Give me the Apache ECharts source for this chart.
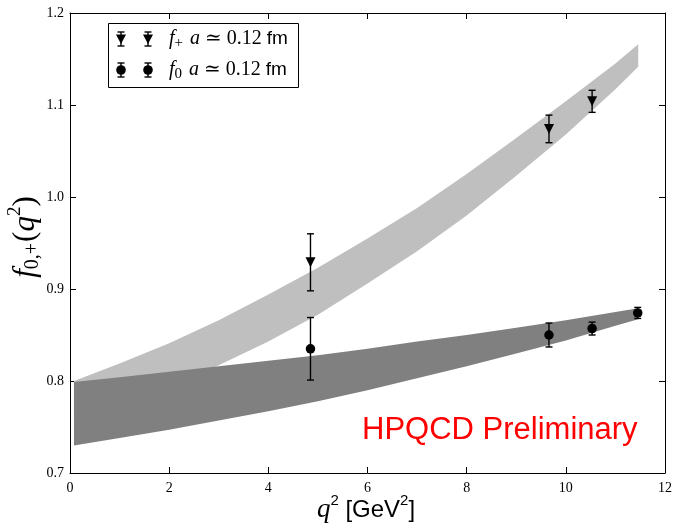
<!DOCTYPE html>
<html>
<head>
<meta charset="utf-8">
<script src="https://cdn.jsdelivr.net/npm/echarts@6/dist/echarts.min.js"></script>
<style>
html,body{margin:0;padding:0;background:#fff;}
#chart{width:675px;height:524px;}
</style>
</head>
<body>
<div id="chart"></div>
<script>
// ---- data ----
const bandQ2 = [0.08, 1, 2, 3, 4, 5, 6, 7, 8, 9, 10, 11, 11.46];
const fPlusBandLow  = [0.760, 0.775, 0.794, 0.817, 0.843, 0.872, 0.906, 0.941, 0.980, 1.023, 1.068, 1.117, 1.1416];
const fPlusBandHigh = [0.800, 0.819, 0.841, 0.866, 0.894, 0.923, 0.955, 0.988, 1.025, 1.064, 1.104, 1.145, 1.166];
const f0BandLow  = [0.730, 0.738, 0.747, 0.757, 0.767, 0.778, 0.790, 0.803, 0.816, 0.830, 0.844, 0.860, 0.867];
const f0BandHigh = [0.799, 0.804, 0.810, 0.816, 0.822, 0.828, 0.835, 0.843, 0.850, 0.858, 0.866, 0.875, 0.879];

const fPlusQ2  = [4.85, 9.66, 10.53];
const fPlusVal = [0.929, 1.074, 1.104];
const fPlusErr = [0.031, 0.015, 0.012];

const f0Q2  = [4.85, 9.66, 10.53, 11.45];
const f0Val = [0.835, 0.850, 0.857, 0.874];
const f0Err = [0.034, 0.013, 0.007, 0.006];

const xTicks = {min: 0, max: 12, interval: 2};
const yTicks = {min: 0.7, max: 1.2, interval: 0.1};
// ---------------------------------------

const SERIF = "'Liberation Serif', 'DejaVu Serif', serif";
const SANS = "'Liberation Sans', Arial, sans-serif";

function bandSeries(low, high, color, z) {
  return {
    type: 'custom',
    data: bandQ2.map((q, i) => [q, low[i], high[i]]),
    renderItem: function (params, api) {
      if (params.dataIndex !== 0) return null;
      const upper = bandQ2.map((q, i) => api.coord([q, high[i]]));
      const lower = bandQ2.map((q, i) => api.coord([q, low[i]])).reverse();
      return {
        type: 'polygon',
        shape: {points: upper.concat(lower), smooth: 0},
        style: {fill: color, stroke: null}
      };
    },
    z: z, silent: true
  };
}

function errorBarSeries(q2, val, err) {
  return {
    type: 'custom',
    data: q2.map((q, i) => [q, val[i], err[i]]),
    renderItem: function (params, api) {
      const x = api.value(0), y = api.value(1), e = api.value(2);
      const top = api.coord([x, y + e]);
      const bot = api.coord([x, y - e]);
      const hw = 3.5;
      const st = {stroke: '#000', lineWidth: 1.4};
      return {
        type: 'group',
        children: [
          {type: 'line', shape: {x1: top[0], y1: top[1], x2: bot[0], y2: bot[1]}, style: st},
          {type: 'line', shape: {x1: top[0] - hw, y1: top[1], x2: top[0] + hw, y2: top[1]}, style: st},
          {type: 'line', shape: {x1: bot[0] - hw, y1: bot[1], x2: bot[0] + hw, y2: bot[1]}, style: st}
        ]
      };
    },
    z: 5, silent: true
  };
}

function legendIcon(cx, cy, kind) {
  const st = {stroke: '#000', lineWidth: 1.4};
  const items = [
    {type: 'line', z: 102, shape: {x1: cx, y1: cy - 7, x2: cx, y2: cy + 7}, style: st},
    {type: 'line', z: 102, shape: {x1: cx - 3.5, y1: cy - 7, x2: cx + 3.5, y2: cy - 7}, style: st},
    {type: 'line', z: 102, shape: {x1: cx - 3.5, y1: cy + 7, x2: cx + 3.5, y2: cy + 7}, style: st}
  ];
  if (kind === 'tri') {
    items.push({type: 'polygon', z: 103, shape: {points: [[cx - 5, cy - 4.5], [cx + 5, cy - 4.5], [cx, cy + 5]]}, style: {fill: '#000'}});
  } else {
    items.push({type: 'circle', z: 103, shape: {cx: cx, cy: cy, r: 4.8}, style: {fill: '#000'}});
  }
  return items;
}

const axisLine = {show: true, onZero: false, lineStyle: {color: '#000', width: 1}};
const axisTick = {show: true, inside: true, length: 6, lineStyle: {color: '#000', width: 1}};

const chart = echarts.init(document.getElementById('chart'), null, {renderer: 'canvas'});

const richLegend = {
  i: {fontFamily: SERIF, fontStyle: 'italic', fontSize: 20, fill: '#000'},
  sub: {fontFamily: SERIF, fontSize: 15, fill: '#000', padding: [9, 2, 0, 0]},
  n: {fontFamily: SERIF, fontSize: 20, fill: '#000'},
  s: {fontFamily: SANS, fontSize: 19, fill: '#000'}
};

const option = {
  animation: false,
  backgroundColor: '#fff',
  grid: {left: 70, right: 10, top: 13, bottom: 51, containLabel: false},
  xAxis: [
    {
      type: 'value', position: 'bottom', min: xTicks.min, max: xTicks.max, interval: xTicks.interval,
      axisLine: axisLine, axisTick: axisTick, splitLine: {show: false},
      axisLabel: {fontFamily: SERIF, fontSize: 14, color: '#000', margin: 8}
    },
    {
      type: 'value', position: 'top', min: xTicks.min, max: xTicks.max, interval: xTicks.interval,
      axisLine: axisLine, axisTick: axisTick, splitLine: {show: false}, axisLabel: {show: false}
    }
  ],
  yAxis: [
    {
      type: 'value', position: 'left', min: yTicks.min, max: yTicks.max, interval: yTicks.interval,
      axisLine: axisLine, axisTick: axisTick, splitLine: {show: false},
      axisLabel: {fontFamily: SERIF, fontSize: 14, color: '#000', margin: 6, formatter: v => v.toFixed(1)}
    },
    {
      type: 'value', position: 'right', min: yTicks.min, max: yTicks.max, interval: yTicks.interval,
      axisLine: axisLine, axisTick: axisTick, splitLine: {show: false}, axisLabel: {show: false}
    }
  ],
  series: [
    bandSeries(fPlusBandLow, fPlusBandHigh, '#bfbfbf', 1),
    bandSeries(f0BandLow, f0BandHigh, '#808080', 2),
    errorBarSeries(fPlusQ2, fPlusVal, fPlusErr),
    errorBarSeries(f0Q2, f0Val, f0Err),
    {
      type: 'scatter', data: fPlusQ2.map((q, i) => [q, fPlusVal[i]]),
      symbol: 'triangle', symbolRotate: 180, symbolSize: [10, 10],
      itemStyle: {color: '#000', opacity: 1}, z: 6, silent: true
    },
    {
      type: 'scatter', data: f0Q2.map((q, i) => [q, f0Val[i]]),
      symbol: 'circle', symbolSize: 9.5,
      itemStyle: {color: '#000', opacity: 1}, z: 6, silent: true
    }
  ],
  graphic: [
    {
      type: 'rect', shape: {x: 108.5, y: 23.5, width: 190, height: 64},
      style: {fill: '#fff', stroke: '#000', lineWidth: 1}, z: 100
    },
    ...legendIcon(121, 39, 'tri'), ...legendIcon(148, 39, 'tri'),
    ...legendIcon(121, 70, 'circ'), ...legendIcon(148, 70, 'circ'),
    {
      type: 'text', x: 169, y: 39, z: 101,
      style: {text: '{i|f}{sub|+}{i| a}{n| \u2243 0.12 }{s|fm}', verticalAlign: 'middle', align: 'left', rich: richLegend}
    },
    {
      type: 'text', x: 169, y: 70, z: 101,
      style: {text: '{i|f}{sub|0}{i| a}{n| \u2243 0.12 }{s|fm}', verticalAlign: 'middle', align: 'left', rich: richLegend}
    },
    {
      type: 'text', x: 362, y: 430, z: 50,
      style: {text: 'HPQCD Preliminary', font: '31px ' + SANS, fill: '#ff0000', verticalAlign: 'middle', align: 'left'}
    },
    {
      type: 'text', x: 366, y: 510, z: 50,
      style: {
        text: '{i|q}{sup|2}{s| [GeV}{sup|2}{s|]}',
        align: 'center', verticalAlign: 'middle',
        rich: {
          i: {fontFamily: SERIF, fontStyle: 'italic', fontSize: 27, fill: '#000'},
          sup: {fontFamily: SANS, fontSize: 15, fill: '#000', padding: [0, 0, 18, 0]},
          s: {fontFamily: SANS, fontSize: 24, fill: '#000'}
        }
      }
    },
    {
      type: 'text', x: 26, y: 237, rotation: Math.PI / 2, z: 50,
      style: {
        text: '{i|f}{sub|0,+}{n|(}{i|q}{sup|2}{n|)}',
        align: 'center', verticalAlign: 'middle',
        rich: {
          i: {fontFamily: SERIF, fontStyle: 'italic', fontSize: 31, fill: '#000'},
          sub: {fontFamily: SERIF, fontSize: 20, fill: '#000', padding: [14, 1, 0, 0]},
          sup: {fontFamily: SERIF, fontSize: 19, fill: '#000', padding: [0, 0, 22, 0]},
          n: {fontFamily: SERIF, fontSize: 31, fill: '#000'}
        }
      }
    }
  ]
};

chart.setOption(option);
</script>
</body>
</html>
